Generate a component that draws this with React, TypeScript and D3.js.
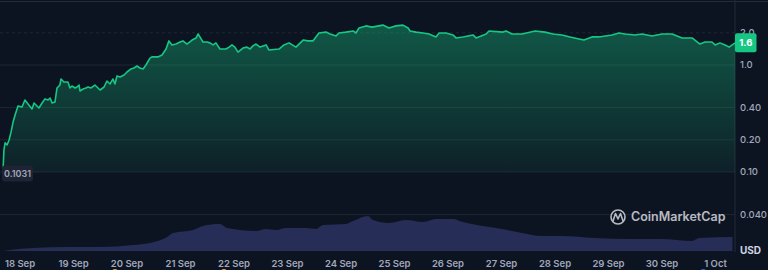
import React from "react";
import * as d3 from "d3";

// hours since 18 Sep 2023 00:00 UTC
const priceHours = [-7.6,-7.2,-6.7,-5.8,-4.9,-4.0,-3.1,-2.2,-0.9,0.9,2.2,3.6,5.4,6.3,7.6,8.5,9.9,11.2,12.6,13.5,14.4,15.7,16.6,17.9,18.4,19.7,21.5,22.4,23.3,24.7,25.6,26.5,26.9,28.3,29.6,30.5,31.9,33.6,35.0,35.9,37.7,39.0,40.4,41.7,42.6,43.5,44.9,46.7,48.0,49.8,51.1,52.5,53.8,55.2,56.5,58.3,59.2,61.9,63.7,65.5,66.8,68.2,70.0,71.8,73.1,74.9,77.2,79.0,79.9,80.7,82.1,83.9,85.2,86.6,87.9,89.7,92.4,93.8,95.1,96.4,97.8,100.0,101.8,103.2,104.5,105.9,107.7,110.4,111.7,116.2,118.4,120.7,123.8,127.0,129.2,131.4,134.1,137.3,139.1,141.8,143.1,146.2,149.4,150.7,152.1,155.2,157.9,161.0,162.8,165.5,168.7,171.8,174.1,175.0,177.6,180.8,183.5,186.6,188.0,191.1,194.2,195.6,198.7,203.2,204.6,209.1,210.4,216.7,218.0,220.7,225.2,231.1,235.5,239.1,243.1,246.7,250.8,253.0,256.6,259.7,265.6,268.7,271.4,275.9,279.0,283.5,288.0,292.5,297.0,301.5,305.0,307.3,310.4,311.8,314.0,316.3,318.1,320.8];
const prices = [0.1031,0.161,0.187,0.179,0.199,0.237,0.293,0.341,0.414,0.405,0.471,0.432,0.388,0.441,0.414,0.396,0.441,0.482,0.471,0.491,0.441,0.451,0.610,0.650,0.740,0.694,0.694,0.610,0.636,0.610,0.623,0.650,0.572,0.597,0.610,0.623,0.610,0.650,0.610,0.584,0.623,0.709,0.665,0.740,0.665,0.789,0.772,0.806,0.860,0.918,0.937,0.979,0.937,0.918,1.00,1.16,1.19,1.19,1.24,1.41,1.68,1.54,1.57,1.64,1.68,1.57,1.71,1.79,1.95,1.83,1.64,1.64,1.61,1.54,1.61,1.41,1.41,1.47,1.54,1.47,1.32,1.44,1.47,1.41,1.51,1.57,1.47,1.54,1.38,1.41,1.54,1.61,1.47,1.71,1.68,1.68,1.99,2.03,1.95,1.87,1.99,2.03,2.08,1.99,2.22,2.32,2.26,2.32,2.36,2.22,2.32,2.36,2.22,2.08,2.03,1.99,1.95,1.83,1.99,1.99,1.91,1.79,1.83,1.91,1.79,1.95,2.08,2.03,2.08,1.95,1.95,2.08,2.03,1.95,1.91,1.83,1.75,1.71,1.83,1.83,1.91,1.99,1.95,1.91,1.95,1.87,1.95,1.95,1.79,1.79,1.57,1.64,1.64,1.54,1.61,1.54,1.47,1.61];

const volumeHours = [-7.6,-4.5,5.8,21.1,35.9,50.7,58.3,66.0,68.6,77.6,82.1,89.7,92.9,105.9,110.4,114.9,119.3,128.3,132.8,136.0,146.2,149.4,156.1,158.3,165.5,173.2,180.8,186.6,194.2,198.7,207.7,213.5,220.7,225.2,234.2,243.1,257.9,273.2,288.0,301.5,304.6,319.4];
const volumes = [0,1,3,4,4,6,8,14,18,21,25,27,23,20,22,21,23,23,22,26,27,30,35,31,28,31,29,32,32,29,25,23,20,18,15,15,13,12,12,10,13,14];

const priceTicks = [2.0, 1.0, 0.4, 0.2, 0.1, 0.04];
const priceTickLabels = ["2.0", "1.0", "0.40", "0.20", "0.10", "0.040"];
const lastPriceLabel = "1.6";
const firstPriceLabel = "0.1031";
const markerHoursOrange = [42.6, 91.5];
const markerHoursBlue = [306.5];

const BASE = Date.UTC(2023, 8, 18);
const H = 3600 * 1000;

export default function App() {
  const W = 768, HT = 270;
  const plotRight = 735;
  const x = d3.scaleUtc()
    .domain([new Date(BASE), new Date(Date.UTC(2023, 9, 1))])
    .range([20, 715.5]);
  const y = d3.scaleLog().domain([1, 0.1]).range([65, 172]);
  const yv = d3.scaleLinear().domain([0, 40]).range([251, 211]);

  const pts = priceHours.map((h, i) => ({ t: new Date(BASE + h * H), v: prices[i] }));
  const vpts = volumeHours.map((h, i) => ({ t: new Date(BASE + h * H), v: volumes[i] }));

  const line = d3.line<any>().x(d => x(d.t)).y(d => y(d.v));
  const area = d3.area<any>().x(d => x(d.t)).y0(y(0.1)).y1(d => y(d.v));
  const varea = d3.area<any>().x(d => x(d.t)).y0(yv(0)).y1(d => yv(d.v)).curve(d3.curveMonotoneX);

  const days = d3.utcDay.range(new Date(BASE), new Date(Date.UTC(2023, 9, 1, 12)));
  const fmt = d3.utcFormat("%-d %b");
  const first = pts[0];
  const font = "Inter, 'Noto Sans', sans-serif";
  const vEnd = x(vpts[vpts.length - 1].t);

  return (
    <svg width={W} height={HT} style={{ position: "absolute", left: 0, top: 0, background: "#0d1421" }}>
      <defs>
        <linearGradient id="pg" x1="0" y1={y(2.4)} x2="0" y2={y(0.1)} gradientUnits="userSpaceOnUse">
          <stop offset="0" stopColor="#16c784" stopOpacity={0.38} />
          <stop offset="1" stopColor="#16c784" stopOpacity={0.07} />
        </linearGradient>
      </defs>
      <rect x={0} y={0} width={W} height={HT} fill="#0d1421" />
      <line x1={0} x2={W} y1={1.5} y2={1.5} stroke="#222a3b" strokeWidth={1} />
      {priceTicks.map((t, i) => (
        <line key={i} x1={0} x2={plotRight} y1={y(t)} y2={y(t)} stroke="#1e2635" strokeWidth={1}
          strokeDasharray={i === 0 ? "3,3" : undefined} />
      ))}
      <line x1={plotRight} x2={plotRight} y1={0} y2={252} stroke="#222a3b" strokeWidth={1} />
      <path d={area(pts) || ""} fill="url(#pg)" />
      <path d={varea(vpts) || ""} fill="#262d56" />
      <line x1={vEnd} x2={vEnd} y1={yv(vpts[vpts.length - 1].v)} y2={yv(0)} stroke="#262d56" strokeWidth={1} />
      <path d={line(pts) || ""} fill="none" stroke="#16c784" strokeWidth={1.6} strokeLinejoin="round" />
      {priceTicks.map((t, i) => (
        <text key={i} x={740} y={y(t)} dy="0.35em" fill="#a1a7bb" fontSize={9.5} fontFamily={font} fontWeight={500}>
          {priceTickLabels[i]}
        </text>
      ))}
      <text x={740} y={250} dy="0.35em" fill="#cfd6e4" fontSize={10} fontFamily={font} fontWeight={700}>USD</text>
      <rect x={plotRight} y={y(1.6) - 10} width={21.5} height={19} rx={2} fill="#16c784" />
      <text x={plotRight + 10.75} y={y(1.6)} dy="0.35em" textAnchor="middle" fill="#ffffff" fontSize={9.5}
        fontFamily={font} fontWeight={700}>{lastPriceLabel}</text>
      <rect x={2} y={y(first.v) - 5} width={31} height={16} rx={3} fill="#1e2433" />
      <text x={17.5} y={y(first.v) + 3} dy="0.35em" textAnchor="middle" fill="#a1a7bb" fontSize={9}
        fontFamily={font} fontWeight={600}>{firstPriceLabel}</text>
      {days.map((d, i) => (
        <text key={i} x={x(d)} y={264} dy="0.35em" textAnchor="middle" fill="#a1a7bb" fontSize={9.5}
          fontFamily={font} fontWeight={600}>{fmt(d)}</text>
      ))}
      {markerHoursOrange.map((h, i) => (
        <circle key={"o" + i} cx={x(new Date(BASE + h * H))} cy={272} r={3} fill="#f0a04b" />
      ))}
      {markerHoursBlue.map((h, i) => (
        <circle key={"b" + i} cx={x(new Date(BASE + h * H))} cy={272} r={3} fill="#3861fb" />
      ))}
      <g opacity={0.85}>
        <circle cx={618} cy={217} r={7} fill="none" stroke="#d5d8df" strokeWidth={1.6} />
        <path d="M613,221 L615.5,213.5 L618,219 L620.5,213.5 L623,221" fill="none" stroke="#d5d8df" strokeWidth={1.6}
          strokeLinejoin="round" strokeLinecap="round" />
        <text x={631} y={217} dy="0.35em" fill="#d5d8df" fontSize={12.5} fontFamily={font} fontWeight={600}>CoinMarketCap</text>
      </g>
    </svg>
  );
}
